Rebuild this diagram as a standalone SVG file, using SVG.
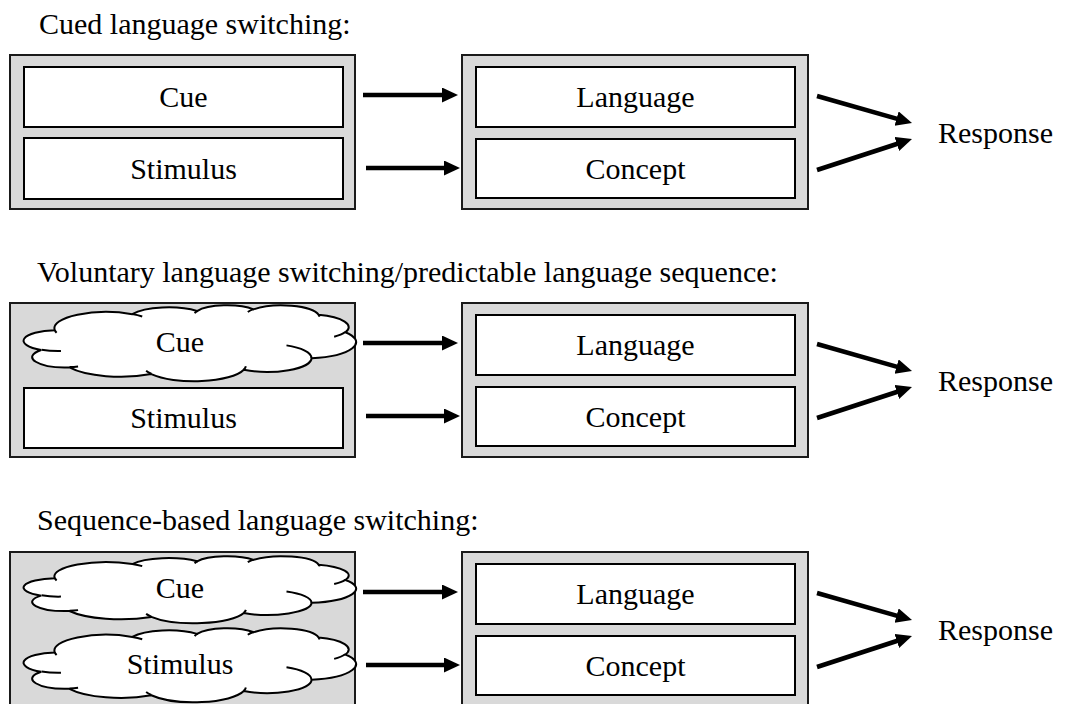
<svg xmlns="http://www.w3.org/2000/svg" xmlns:xlink="http://www.w3.org/1999/xlink" width="1065" height="704" viewBox="0 0 1065 704">
<style>
  text { font-family: "Liberation Serif", "Times New Roman", serif; font-size: 30px; fill: #000; }
  .mid { text-anchor: middle; }
  .panel { fill: #d9d9d9; stroke: #1a1a1a; stroke-width: 2; }
  .box { fill: #fff; stroke: #000; stroke-width: 2; }
  .cloud { fill: #fff; stroke: #000; stroke-width: 2; vector-effect: non-scaling-stroke; }
  .cloudline { fill: none; stroke: #000; stroke-width: 2; vector-effect: non-scaling-stroke; }
  .arrow { stroke: #000; stroke-width: 4.5; fill: none; marker-end: url(#head); }
</style>
<defs>
  <marker id="head" markerUnits="userSpaceOnUse" markerWidth="17" markerHeight="16" refX="8" refY="7.5" orient="auto" viewBox="0 0 17 16">
    <path d="M0,0 L16,7.5 L0,15 Z" fill="#000"/>
  </marker>
  <g id="cloudshape">
    <path class="cloud" d="M3900,14370 A6753,9190 0 0 1 14006,5204 A5333,7267 0 0 1 22456,3432 A4365,5945 0 0 1 29834,2480 A4857,6595 0 0 1 38318,5576 A5333,7273 0 0 1 41818,15461 A6775,9220 0 0 1 37404,30203 A5785,7867 0 0 1 28555,36814 A6752,9215 0 0 1 16481,39267 A7720,10543 0 0 1 5804,35473 A4360,5918 0 0 1 2113,25550 A4345,5945 0 0 1 3900,14370 Z"/>
    <path class="cloudline" d="M4693,26177 A4345,5945 0 0 1 2160,25380 M6928,34899 A4360,5918 0 0 1 5819,35281 M16478,39090 A6752,9215 0 0 1 15809,37347 M28827,34751 A6752,9215 0 0 1 28560,36660 M34129,22954 A5785,7867 0 0 1 37380,30090 M41798,15354 A5333,7273 0 0 1 40350,18030 M38324,5426 A4857,6595 0 0 1 38400,6690 M29078,3952 A4857,6595 0 0 1 29821,2338 M22141,4720 A4365,5945 0 0 1 22540,3224 M14000,5192 A6753,9190 0 0 1 15300,6541 M4127,15789 A6753,9190 0 0 1 3900,14370"/>
  </g>
</defs>

<!-- Panel 1: Cued language switching -->
<text id="title1" x="39" y="34">Cued language switching:</text>
<g id="p1-input">
  <rect class="panel" x="10" y="55" width="345" height="154"/>
  <g id="p1-cue"><rect class="box" x="24" y="67" width="319" height="60"/><text class="mid" x="183.5" y="107">Cue</text></g>
  <g id="p1-stimulus"><rect class="box" x="24" y="138" width="319" height="61"/><text class="mid" x="183.5" y="178.5">Stimulus</text></g>
</g>
<g id="p1-output">
  <rect class="panel" x="462" y="55" width="346" height="154"/>
  <g id="p1-language"><rect class="box" x="476" y="67" width="319" height="60"/><text class="mid" x="635.5" y="107">Language</text></g>
  <g id="p1-concept"><rect class="box" x="476" y="139" width="319" height="59"/><text class="mid" x="635.5" y="178.5">Concept</text></g>
</g>
<g id="p1-response"><text x="938" y="143">Response</text></g>

<!-- Panel 2: Voluntary -->
<text id="title2" x="37" y="282">Voluntary language switching/predictable language sequence:</text>
<g id="p2-input">
  <rect class="panel" x="10" y="303" width="345" height="154"/>
  <g id="p2-cue"><use xlink:href="#cloudshape" transform="translate(25,305) scale(0.0076620,0.0017593)"/><text class="mid" x="180" y="351.5">Cue</text></g>
  <g id="p2-stimulus"><rect class="box" x="24" y="388" width="319" height="60"/><text class="mid" x="183.5" y="428">Stimulus</text></g>
</g>
<g id="p2-output">
  <rect class="panel" x="462" y="303" width="346" height="154"/>
  <g id="p2-language"><rect class="box" x="476" y="315" width="319" height="60"/><text class="mid" x="635.5" y="355">Language</text></g>
  <g id="p2-concept"><rect class="box" x="476" y="387" width="319" height="59"/><text class="mid" x="635.5" y="426.5">Concept</text></g>
</g>
<g id="p2-response"><text x="938" y="391">Response</text></g>

<!-- Panel 3: Sequence-based -->
<text id="title3" x="37" y="530">Sequence-based language switching:</text>
<g id="p3-input">
  <rect class="panel" x="10" y="552" width="345" height="154"/>
  <g id="p3-cue"><use xlink:href="#cloudshape" transform="translate(25,556) scale(0.0076620,0.0015509)"/><text class="mid" x="180" y="598">Cue</text></g>
  <g id="p3-stimulus"><use xlink:href="#cloudshape" transform="translate(25,628) scale(0.0076620,0.0017130)"/><text class="mid" x="180" y="673.5">Stimulus</text></g>
</g>
<g id="p3-output">
  <rect class="panel" x="462" y="552" width="346" height="154"/>
  <g id="p3-language"><rect class="box" x="476" y="564" width="319" height="60"/><text class="mid" x="635.5" y="604">Language</text></g>
  <g id="p3-concept"><rect class="box" x="476" y="636" width="319" height="59"/><text class="mid" x="635.5" y="675.5">Concept</text></g>
</g>
<g id="p3-response"><text x="938" y="640">Response</text></g>

<g id="connectors">
  <line class="arrow" x1="363" y1="95" x2="450" y2="95"/>
  <line class="arrow" x1="366" y1="168" x2="452" y2="168"/>
  <line class="arrow" x1="817" y1="96" x2="904.3" y2="120.8"/>
  <line class="arrow" x1="817" y1="170" x2="904.4" y2="141.5"/>

  <line class="arrow" x1="363" y1="343" x2="450" y2="343"/>
  <line class="arrow" x1="366" y1="416" x2="452" y2="416"/>
  <line class="arrow" x1="817" y1="344" x2="904.3" y2="368.8"/>
  <line class="arrow" x1="817" y1="418" x2="904.4" y2="389.5"/>

  <line class="arrow" x1="363" y1="592" x2="450" y2="592"/>
  <line class="arrow" x1="366" y1="665" x2="452" y2="665"/>
  <line class="arrow" x1="817" y1="593" x2="904.3" y2="617.8"/>
  <line class="arrow" x1="817" y1="667" x2="904.4" y2="638.5"/>
</g>
</svg>
